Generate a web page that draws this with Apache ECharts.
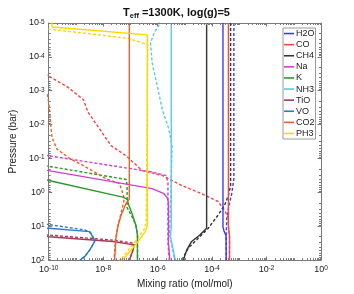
<!DOCTYPE html>
<html><head><meta charset="utf-8">
<script src="https://cdn.jsdelivr.net/npm/echarts@6/dist/echarts.min.js"></script>
<style>html,body{margin:0;padding:0;background:#fff}#c{width:354px;height:294px}</style>
</head><body><div id="c"></div>
<script>
// Species shown in the legend
const species = ['H2O','CO','CH4','Na','K','NH3','TiO','VO','CO2','PH3'];
const colors = ['#3b3bf5','#f04848','#333333','#d23ed2','#2a9a2a','#5bc8ee','#a8385a','#2a7cc8','#e8632a','#ffd700'];

// Each point: [log10(mixing ratio), log10(pressure in bar)]
const H2O_solid  = [[-3.60,-5],[-3.60,1.02],[-3.56,1.15],[-3.49,1.27],[-3.48,2]];
const H2O_dashed = [[-3.20,-5],[-3.20,-0.40],[-3.28,0.05],[-3.38,0.38],[-3.46,0.77],[-3.48,1.2],[-3.48,2]];
const CO_solid   = [[-3.40,-5],[-3.40,1.0],[-3.36,1.3],[-3.36,2]];
const CO_dashed  = [[-10.3,-3.57],[-10,-3.43],[-9.34,-3.13],[-8.73,-2.74],[-8.55,-2.36],[-8.13,-1.87],[-7.71,-1.38],[-7.16,-1.08],[-6.56,-0.64],[-5.83,-0.50],[-5.11,-0.20],[-4.38,0.04],[-3.78,0.27],[-3.54,0.53],[-3.40,0.77],[-3.40,1.0],[-3.36,1.3],[-3.36,2]];
const CH4_solid  = [[-4.20,-5],[-4.20,1.06],[-4.45,1.26],[-4.75,1.45],[-4.93,1.70],[-5.01,1.89],[-5.05,2]];
const CH4_dashed = [[-3.32,-5],[-3.32,-0.2],[-3.40,0.09],[-3.54,0.38],[-3.78,0.67],[-4.14,1.06],[-4.50,1.35],[-4.87,1.64],[-5.11,2]];
const Na_solid   = [[-10.5,-0.71],[-10,-0.64],[-6.20,-0.11],[-5.77,0.04],[-5.65,0.15],[-5.60,0.3],[-5.60,1.5],[-5.55,2]];
const Na_dashed  = [[-10.5,-1.14],[-10,-1.08],[-6.20,-0.60],[-5.70,-0.50],[-5.62,-0.30],[-5.62,1.5],[-5.57,2]];
const K_solid    = [[-10.5,-0.44],[-10,-0.35],[-7.28,0.14],[-7.12,0.2],[-7.07,0.35],[-6.92,0.67],[-6.80,0.97],[-6.74,1.26],[-6.74,2]];
const K_dashed   = [[-10.5,-0.84],[-10,-0.77],[-7.15,-0.38],[-7.12,-0.2],[-7.12,0.45],[-6.92,0.75],[-6.80,0.97],[-6.74,1.26],[-6.74,2]];
const NH3_solid  = [[-5.50,-5],[-5.50,1.06],[-5.53,1.3],[-5.35,2]];
const NH3_dashed = [[-5.92,-5.1],[-5.95,-4.94],[-6.13,-4.70],[-6.26,-4.41],[-6.20,-3.82],[-6.01,-3.13],[-5.83,-2.45],[-5.59,-1.87],[-5.47,-1.38],[-5.53,0.5],[-5.56,1.2],[-5.45,1.7],[-5.38,2]];
const TiO_solid  = [[-10.5,1.29],[-10,1.31],[-7.64,1.45],[-6.86,1.55],[-6.90,1.70],[-7.04,2]];
const TiO_dashed = [[-10.5,1.24],[-10,1.26],[-7.64,1.41],[-6.88,1.50],[-6.86,1.57],[-6.92,1.72],[-7.02,2]];
const VO_solid   = [[-10.5,1.04],[-10,1.06],[-8.49,1.16],[-8.35,1.36],[-8.31,1.45],[-8.49,1.70],[-8.67,1.89],[-8.85,2]];
const VO_dashed  = [[-10.5,0.91],[-10,0.95],[-8.67,1.11],[-8.45,1.2],[-8.35,1.36],[-8.31,1.45],[-8.49,1.70],[-8.67,1.89],[-8.85,2]];
const CO2_solid  = [[-7.04,-5],[-7.04,0.2],[-7.16,0.33],[-7.34,0.67],[-7.46,1.01],[-7.53,1.36],[-7.58,2]];
const CO2_dashed = [[-10.05,-2.9],[-10,-2.65],[-9.88,-1.62],[-9.70,-1.28],[-9.21,-0.99],[-8.73,-0.79],[-7.89,-0.40],[-7.40,-0.26],[-7.22,0.18],[-7.34,0.60],[-7.46,1.0],[-7.55,1.4],[-7.60,2]];
const PH3_solid  = [[-9.88,-5.1],[-9.88,-4.88],[-6.38,-4.65],[-6.38,0.97],[-6.45,1.15],[-6.68,1.41],[-6.92,1.65],[-7.22,1.94],[-7.34,2]];
const PH3_dashed = [[-10.2,-4.84],[-10,-4.82],[-7.1,-4.55],[-6.36,-4.36],[-6.42,0.9],[-6.50,1.1],[-6.75,1.38],[-7.0,1.62],[-7.3,1.94],[-7.42,2]];

const solidLines  = [H2O_solid,CO_solid,CH4_solid,Na_solid,K_solid,NH3_solid,TiO_solid,VO_solid,CO2_solid,PH3_solid];
const dashedLines = [H2O_dashed,CO_dashed,CH4_dashed,Na_dashed,K_dashed,NH3_dashed,TiO_dashed,VO_dashed,CO2_dashed,PH3_dashed];

// Axis ranges (exponents)
const xExpMin = -10, xExpMax = 0;
const yExpMin = -5, yExpMax = 2;

const FONT = 'Liberation Sans, Arial, Helvetica, sans-serif';
const AX = '#7a7a7a';
const LW = 1.4;
const toVal = arr => arr.map(p => [Math.pow(10, p[0]), Math.pow(10, p[1])]);
const expOf = v => Math.round(Math.log10(v));
const supLabel = v => '{b|10}{s|' + expOf(v) + '}';
const richSup = {
  b: {fontSize: 9, fontFamily: FONT, color: '#222', lineHeight: 9, padding: [3,0,0,0], verticalAlign: 'bottom'},
  s: {fontSize: 6.5, fontFamily: FONT, color: '#222', lineHeight: 7, verticalAlign: 'top'}
};

// minor tick positions (axis decoration)
const xMinor = [], yMinor = [];
for (let d = xExpMin; d < xExpMax; d++) {
  for (let k = 2; k <= 9; k++) xMinor.push([k * Math.pow(10, d), 1]);
  if ((d - xExpMin) % 2 === 1) xMinor.push([Math.pow(10, d), 1]);
}
for (let d = yExpMin; d < yExpMax; d++) {
  for (let k = 2; k <= 9; k++) yMinor.push([1e-3, k * Math.pow(10, d)]);
}

const series = [];
species.forEach((name, i) => {
  series.push({
    name: name + ' diseq', type: 'line', data: toVal(dashedLines[i]),
    showSymbol: false, symbol: 'none', silent: true, z: 2,
    lineStyle: {color: colors[i], width: LW, type: [3, 2]}
  });
});
species.forEach((name, i) => {
  series.push({
    name: name, type: 'line', data: toVal(solidLines[i]),
    showSymbol: false, symbol: 'none', silent: true, z: 3,
    color: colors[i], itemStyle: {color: colors[i]},
    lineStyle: {color: colors[i], width: LW, type: 'solid'}
  });
});
series.push({
  type: 'custom', data: xMinor, clip: false, silent: true, z: 5,
  renderItem: (params, api) => {
    const cs = params.coordSys;
    const x = Math.round(api.coord([api.value(0), 1])[0]) + 0.5;
    return {type: 'group', children: [
      {type: 'line', shape: {x1: x, y1: cs.y + cs.height, x2: x, y2: cs.y + cs.height - 2}, style: {stroke: AX, lineWidth: 1}},
      {type: 'line', shape: {x1: x, y1: cs.y, x2: x, y2: cs.y + 2}, style: {stroke: AX, lineWidth: 1}}
    ]};
  }
});
series.push({
  type: 'custom', data: yMinor, clip: false, silent: true, z: 5,
  renderItem: (params, api) => {
    const cs = params.coordSys;
    const y = Math.round(api.coord([1e-3, api.value(1)])[1]) + 0.5;
    return {type: 'group', children: [
      {type: 'line', shape: {x1: cs.x, y1: y, x2: cs.x + 2, y2: y}, style: {stroke: AX, lineWidth: 1}},
      {type: 'line', shape: {x1: cs.x + cs.width, y1: y, x2: cs.x + cs.width - 2, y2: y}, style: {stroke: AX, lineWidth: 1}}
    ]};
  }
});

const baseX = {
  type: 'log', logBase: 10, min: Math.pow(10, xExpMin), max: Math.pow(10, xExpMax), interval: 2,
  axisLine: {show: true, lineStyle: {color: AX, width: 1}},
  axisTick: {show: true, inside: true, length: 3.5, lineStyle: {color: AX}},
  splitLine: {show: false}, minorTick: {show: false}
};
const baseY = {
  type: 'log', logBase: 10, min: Math.pow(10, yExpMin), max: Math.pow(10, yExpMax), interval: 1, inverse: true,
  axisLine: {show: true, lineStyle: {color: AX, width: 1}},
  axisTick: {show: true, inside: true, length: 3.5, lineStyle: {color: AX}},
  splitLine: {show: false}, minorTick: {show: false}
};

const chart = echarts.init(document.getElementById('c'), null, {renderer: 'canvas'});
chart.setOption({
  animation: false,
  backgroundColor: '#fff',
  title: {
    text: '{t|T}{sub|eff}{t| =1300K, log(g)=5}',
    left: 118, top: 2,
    textStyle: {
      rich: {
        t: {fontSize: 11, fontWeight: 'bold', fontFamily: FONT, color: '#111', lineHeight: 13, verticalAlign: 'top'},
        sub: {fontSize: 7.5, fontWeight: 'bold', fontFamily: FONT, color: '#111', lineHeight: 13, verticalAlign: 'bottom', padding: [6,0,0,0]}
      }
    }
  },
  grid: {left: 45, right: 33, top: 23, bottom: 32, containLabel: false},
  legend: {
    data: species.map(n => ({name: n, icon: 'rect'})), orient: 'vertical', left: 283, top: 28,
    itemWidth: 10, itemHeight: 1.6, itemGap: 0,
    padding: [0, 1, 0, 1],
    borderColor: '#9a9a9a', borderWidth: 1, backgroundColor: '#fff',
    textStyle: {fontSize: 9, fontFamily: FONT, color: '#222', lineHeight: 11.1, padding: [0,0,0,-3]},
    selectedMode: false
  },
  xAxis: [
    Object.assign({}, baseX, {
      position: 'bottom',
      name: 'Mixing ratio (mol/mol)', nameLocation: 'middle', nameGap: 17,
      nameTextStyle: {fontSize: 10, fontFamily: FONT, color: '#222', verticalAlign: 'top'},
      axisLabel: {show: true, margin: 5, formatter: supLabel, rich: richSup}
    }),
    Object.assign({}, baseX, {position: 'top', axisLabel: {show: false}})
  ],
  yAxis: [
    Object.assign({}, baseY, {
      position: 'left',
      name: 'Pressure (bar)', nameLocation: 'middle', nameGap: 27,
      nameTextStyle: {fontSize: 10, fontFamily: FONT, color: '#222'},
      axisLabel: {show: true, margin: 4, formatter: supLabel, rich: richSup}
    }),
    Object.assign({}, baseY, {position: 'right', axisLabel: {show: false}})
  ],
  series: series
});
</script></body></html>
